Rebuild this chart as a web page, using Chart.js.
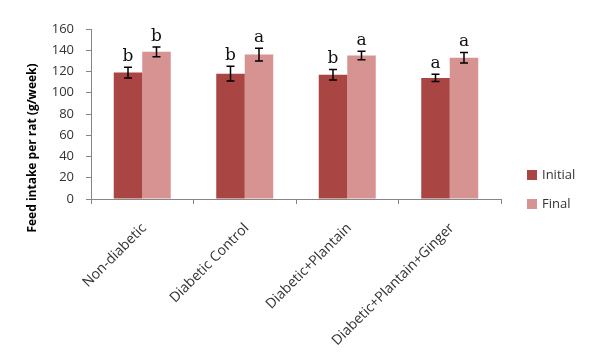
<!DOCTYPE html>
<html>
<head>
<meta charset="utf-8">
<script src="https://cdn.jsdelivr.net/npm/chart.js@4/dist/chart.umd.min.js"></script>
<style>
  html, body { margin: 0; padding: 0; background: #fff; }
  #wrap { width: 600px; height: 358px; position: relative; }
</style>
</head>
<body>
<div id="wrap"><canvas id="chart"></canvas></div>
<script>
const groups = ['Non-diabetic', 'Diabetic Control', 'Diabetic+Plantain', 'Diabetic+Plantain+Ginger']
const initialVals = [119, 118, 117, 114]
const initialErr = [5, 7, 5, 3.5]
const initialSig = ['b', 'b', 'b', 'a']
const finalVals = [138.5, 136, 135, 133]
const finalErr = [4.5, 6, 4, 5]
const finalSig = ['b', 'a', 'a', 'a']
const seriesNames = ['Initial', 'Final']
const yTicks = [0, 20, 40, 60, 80, 100, 120, 140, 160]

const colInitial = '#A94542'
const colFinal = '#D69391'
const axisGray = '#868686'
const textCol = '#333333'

// error bars + letters over each bar
const errorPlugin = {
  id: 'errs',
  afterDatasetsDraw(chart) {
    const ctx = chart.ctx
    const y = chart.scales.y
    const errs = [initialErr, finalErr]
    const sigs = [initialSig, finalSig]
    ctx.save()
    chart.data.datasets.forEach((ds, di) => {
      const meta = chart.getDatasetMeta(di)
      meta.data.forEach((bar, i) => {
        const v = ds.data[i]
        const top = y.getPixelForValue(v + errs[di][i])
        const bot = y.getPixelForValue(v - errs[di][i])
        const x = bar.x
        ctx.strokeStyle = '#000'
        ctx.lineWidth = 1.5
        ctx.beginPath()
        ctx.moveTo(x, top); ctx.lineTo(x, bot)
        ctx.moveTo(x - 4, top); ctx.lineTo(x + 4, top)
        ctx.moveTo(x - 4, bot); ctx.lineTo(x + 4, bot)
        ctx.stroke()
        ctx.fillStyle = '#111'
        ctx.font = '17px "DejaVu Serif", "Liberation Serif", serif'
        ctx.textAlign = 'center'
        ctx.textBaseline = 'alphabetic'
        ctx.fillText(sigs[di][i], x, top - 6)
      })
    })
    ctx.restore()
  }
}

// y title and legend on the right
const decoPlugin = {
  id: 'deco',
  afterDraw(chart) {
    const ctx = chart.ctx
    ctx.save()
    ctx.translate(33, 148)
    ctx.rotate(-Math.PI / 2)
    ctx.fillStyle = '#000'
    ctx.font = 'bold 12px "Open Sans", sans-serif'
    ctx.textAlign = 'center'
    ctx.textBaseline = 'middle'
    ctx.fillText('Feed intake per rat (g/week)', 0, 0)
    ctx.restore()

    ctx.save()
    ctx.font = '13px "Open Sans", sans-serif'
    ctx.textBaseline = 'middle'
    chart.data.datasets.forEach((ds, i) => {
      const cy = 175 + i * 29
      ctx.fillStyle = ds.backgroundColor
      ctx.fillRect(527, cy - 5, 10, 10)
      ctx.fillStyle = textCol
      ctx.fillText(ds.label, 542, cy)
    })
    ctx.restore()
  }
}

new Chart(document.getElementById('chart'), {
  type: 'bar',
  data: {
    labels: groups,
    datasets: [
      { label: seriesNames[0], data: initialVals, backgroundColor: colInitial },
      { label: seriesNames[1], data: finalVals, backgroundColor: colFinal }
    ]
  },
  options: {
    responsive: true,
    maintainAspectRatio: false,
    animation: false,
    layout: { padding: { top: 29, right: 99, left: 0, bottom: 0 } },
    datasets: { bar: { categoryPercentage: 0.556, barPercentage: 1 } },
    plugins: { legend: { display: false }, tooltip: { enabled: false } },
    scales: {
      x: {
        grid: { display: true, drawOnChartArea: false, offset: true, color: axisGray, tickLength: 5 },
        border: { color: axisGray },
        ticks: { color: textCol, font: { family: 'Open Sans', size: 14 }, maxRotation: 45, minRotation: 45, padding: 16, labelOffset: 2, autoSkip: false },
        afterFit: s => { s.height = 159 }
      },
      y: {
        min: 0, max: 160,
        afterBuildTicks: s => { s.ticks = yTicks.map(v => ({ value: v })) },
        grid: { display: true, drawOnChartArea: false, color: axisGray, tickLength: 5 },
        border: { color: axisGray },
        ticks: { color: textCol, font: { family: 'Open Sans', size: 13 }, padding: 12 },
        afterFit: s => { s.width = 91 }
      }
    }
  },
  plugins: [errorPlugin, decoPlugin]
})
</script>
</body>
</html>
